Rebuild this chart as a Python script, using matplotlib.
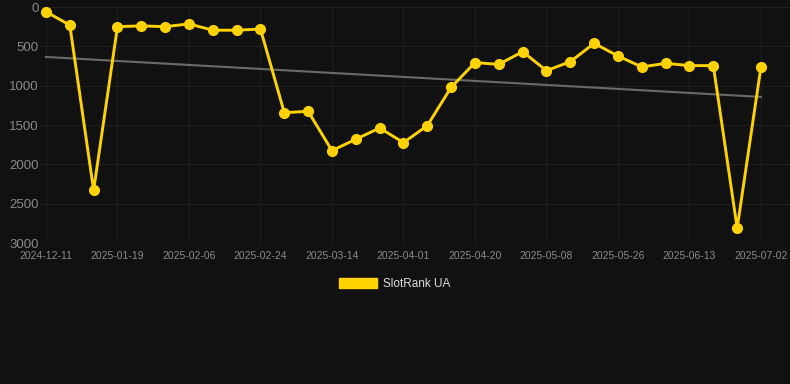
import numpy as np
import matplotlib
matplotlib.use('Agg')
import matplotlib.pyplot as plt
from matplotlib.patches import Patch

plt.rcParams['font.family'] = ['Liberation Sans', 'DejaVu Sans']

# ranks per observation (lower is better), categorical x
ranks = [60, 230, 2330, 250, 240, 250, 215, 295, 295, 280,
         1343, 1326, 1826, 1681, 1538, 1724, 1508, 1021, 707, 729,
         568, 809, 695, 462, 623, 762, 716, 745, 745, 2812, 758]
tick_labels = ['2024-12-11', '2025-01-19', '2025-02-06', '2025-02-24', '2025-03-14', '2025-04-01',
               '2025-04-20', '2025-05-08', '2025-05-26', '2025-06-13', '2025-07-02']
trend_ends = [635, 1143]
series_name = 'SlotRank UA'

bg = '#111111'
gold = '#FFD200'

x = np.arange(len(ranks))
fig = plt.figure(figsize=(7.9, 3.84), dpi=100, facecolor=bg)
ax = fig.add_axes([40 / 790, 1 - 243 / 384, 750 / 790, 236 / 384], facecolor=bg)

ax.plot([x[0], x[-1]], trend_ends, color='#6a6a6a', lw=1.5, zorder=2)
ax.plot(x, ranks, color=gold, lw=2.1, marker='o', markersize=7, zorder=3)

ax.set_ylim(3000, 0)
ax.set_xlim(-0.25, len(ranks) - 1 + 29 / 23.83)
ax.set_yticks([0, 500, 1000, 1500, 2000, 2500, 3000])
ax.set_xticks(x[::3])
ax.set_xticklabels(tick_labels)
ax.tick_params(axis='y', colors='#8a8a8a', labelsize=9.5, length=0, pad=1)
ax.tick_params(axis='x', colors='#8a8a8a', labelsize=7.5, length=0, pad=6)
ax.grid(True, color='#1f1f1f', lw=0.8)
for s in ax.spines.values():
    s.set_visible(False)

fig.legend(handles=[Patch(color=gold, label=series_name)], loc='center', bbox_to_anchor=(0.5, 1 - 284 / 384),
           frameon=False, labelcolor='#dddddd', fontsize=8.5, handlelength=3.2, handleheight=1.0,
           handletextpad=0.5)

fig.savefig('out.png', dpi=100, facecolor=bg)
